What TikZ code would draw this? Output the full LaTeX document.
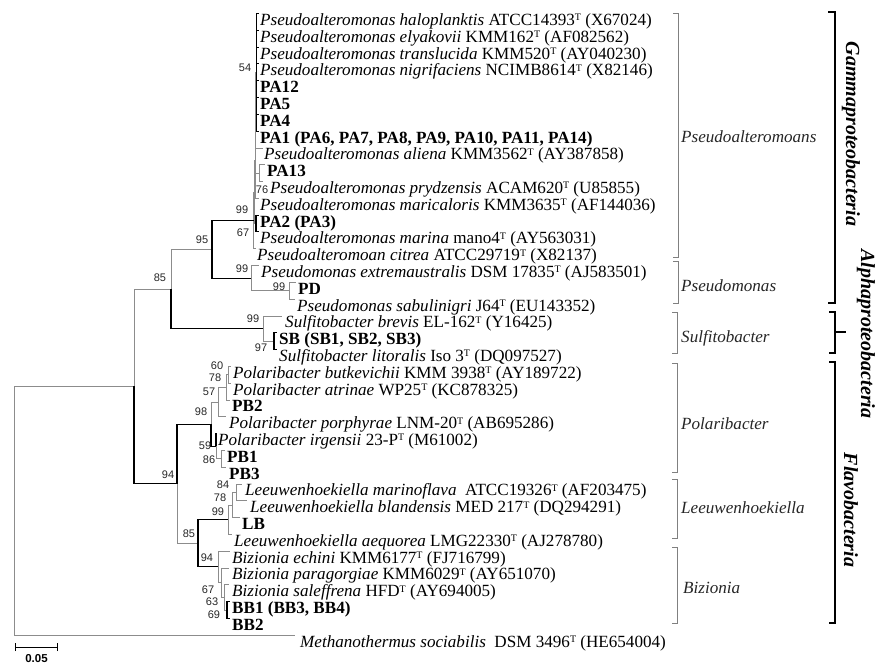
\documentclass[tikz,border=0pt]{standalone}
\usepackage{fontspec}
\setmainfont{Liberation Serif}
\newfontfamily\bootfont{Liberation Sans}
% type strain mark, kept small so rows do not collide
\newcommand\tsup{\raisebox{4.6pt}{\fontsize{10}{10}\selectfont T}}

\begin{document}
\begin{tikzpicture}[x=1pt,y=-1pt,
  leaf/.style={anchor=base west,inner sep=0pt,font=\fontsize{17.1}{18}\selectfont},
  boot/.style={inner sep=0pt,text=black!85,font=\bootfont\fontsize{11}{11}\selectfont},
  br/.style={line width=1.1pt,black},
  brg/.style={line width=0.8pt,black!45},
  clade/.style={line width=0.7pt,black!50},
  cladelab/.style={anchor=base west,inner sep=0pt,text=black!85,font=\fontsize{17.1}{18}\selectfont\itshape},
  group/.style={line width=2.6pt,black},
  grouplab/.style={rotate=-90,inner sep=0pt,font=\fontsize{20}{20}\selectfont\bfseries\itshape}]
  \useasboundingbox (0,0) rectangle (876,664);

  % Leaf labels
  \node[leaf] (l1)  at (260,25.5)  {\textit{Pseudoalteromonas haloplanktis} ATCC14393\tsup{} (X67024)};
  \node[leaf] (l2)  at (260,42.3)  {\textit{Pseudoalteromonas elyakovii} KMM162\tsup{} (AF082562)};
  \node[leaf] (l3)  at (260,59.1)  {\textit{Pseudoalteromonas translucida} KMM520\tsup{} (AY040230)};
  \node[leaf] (l4)  at (260,75.9)  {\textit{Pseudoalteromonas nigrifaciens} NCIMB8614\tsup{} (X82146)};
  \node[leaf] (l5)  at (260,92.7)  {\textbf{PA12}};
  \node[leaf] (l6)  at (260,109.5) {\textbf{PA5}};
  \node[leaf] (l7)  at (260,126.3) {\textbf{PA4}};
  \node[leaf] (l8)  at (260,143.1) {\textbf{PA1 (PA6, PA7, PA8, PA9, PA10, PA11, PA14)}};
  \node[leaf] (l9)  at (264,159.9) {\textit{Pseudoalteromonas aliena} KMM3562\tsup{} (AY387858)};
  \node[leaf] (l10) at (267,176.7) {\textbf{PA13}};
  \node[leaf] (l11) at (270,193.5) {\textit{Pseudoalteromonas prydzensis} ACAM620\tsup{} (U85855)};
  \node[leaf] (l12) at (260,210.3) {\textit{Pseudoalteromonas maricaloris} KMM3635\tsup{} (AF144036)};
  \node[leaf] (l13) at (260,227.1) {\textbf{PA2 (PA3)}};
  \node[leaf] (l14) at (260,243.9) {\textit{Pseudoalteromonas marina} mano4\tsup{} (AY563031)};
  \node[leaf] (l15) at (257,260.7) {\textit{Pseudoalteromoan citrea} ATCC29719\tsup{} (X82137)};
  \node[leaf] (l16) at (261,277.5) {\textit{Pseudomonas extremaustralis} DSM 17835\tsup{} (AJ583501)};
  \node[leaf] (l17) at (298,294.3) {\textbf{PD}};
  \node[leaf] (l18) at (297,311.1) {\textit{Pseudomonas sabulinigri} J64\tsup{} (EU143352)};
  \node[leaf] (l19) at (285,327.9) {\textit{Sulfitobacter brevis} EL-162\tsup{} (Y16425)};
  \node[leaf] (l20) at (279,344.7) {\textbf{SB (SB1, SB2, SB3)}};
  \node[leaf] (l21) at (279,361.5) {\textit{Sulfitobacter litoralis} Iso 3\tsup{} (DQ097527)};
  \node[leaf] (l22) at (233,378.3) {\textit{Polaribacter butkevichii} KMM 3938\tsup{} (AY189722)};
  \node[leaf] (l23) at (233,395.1) {\textit{Polaribacter atrinae} WP25\tsup{} (KC878325)};
  \node[leaf] (l24) at (232,411.9) {\textbf{PB2}};
  \node[leaf] (l25) at (229,428.7) {\textit{Polaribacter porphyrae} LNM-20\tsup{} (AB695286)};
  \node[leaf] (l26) at (218,445.5) {\textit{Polaribacter irgensii} 23-P\tsup{} (M61002)};
  \node[leaf] (l27) at (227,462.3) {\textbf{PB1}};
  \node[leaf] (l28) at (229,479.1) {\textbf{PB3}};
  \node[leaf] (l29) at (245,495.9) {\textit{Leeuwenhoekiella marinoflava}\ \ ATCC19326\tsup{} (AF203475)};
  \node[leaf] (l30) at (250,512.7) {\textit{Leeuwenhoekiella blandensis} MED 217\tsup{} (DQ294291)};
  \node[leaf] (l31) at (242,529.5) {\textbf{LB}};
  \node[leaf] (l32) at (234,546.3) {\textit{Leeuwenhoekiella aequorea} LMG22330\tsup{} (AJ278780)};
  \node[leaf] (l33) at (232,563.1) {\textit{Bizionia echini} KMM6177\tsup{} (FJ716799)};
  \node[leaf] (l34) at (232,579.9) {\textit{Bizionia paragorgiae} KMM6029\tsup{} (AY651070)};
  \node[leaf] (l35) at (232,596.7) {\textit{Bizionia saleffrena} HFD\tsup{} (AY694005)};
  \node[leaf] (l36) at (232,613.5) {\textbf{BB1 (BB3, BB4)}};
  \node[leaf] (l37) at (232,630.3) {\textbf{BB2}};
  \node[leaf] (l38) at (300,647.1) {\textit{Methanothermus sociabilis}\ \ DSM 3496\tsup{} (HE654004)};

  % Branch tips
  \coordinate (t1) at (258.5,13.5);  \coordinate (t2) at (258.5,30.3);
  \coordinate (t3) at (258.5,47.1);  \coordinate (t4) at (258.5,63.9);
  \coordinate (t5) at (258.5,80.7);  \coordinate (t6) at (258.5,97.5);
  \coordinate (t7) at (258.5,114.3); \coordinate (t8) at (258.5,131.1);
  \coordinate (t9) at (262.5,147.9); \coordinate (t10) at (265,164.7);
  \coordinate (t11) at (263,181.5);  \coordinate (t12) at (258.5,198.3);
  \coordinate (t13) at (258.5,215.1); \coordinate (t14) at (258.5,231.9);
  \coordinate (t15) at (256,248.7);  \coordinate (t16) at (259,265.5);
  \coordinate (t17) at (296,282.3);  \coordinate (t18) at (295,299.1);
  \coordinate (t19) at (282,315.9);  \coordinate (t20) at (277,332.7);
  \coordinate (t21) at (277,349.5);  \coordinate (t22) at (231,366.3);
  \coordinate (t23) at (231,383.1);  \coordinate (t24) at (230,399.9);
  \coordinate (t25) at (226,416.7);  \coordinate (t26) at (217,433.5);
  \coordinate (t27) at (225,450.3);  \coordinate (t28) at (226,467.1);
  \coordinate (t29) at (242,483.9);  \coordinate (t30) at (247,500.7);
  \coordinate (t31) at (240,517.5);  \coordinate (t32) at (232,534.3);
  \coordinate (t33) at (230,551.1);  \coordinate (t34) at (229,567.9);
  \coordinate (t35) at (229,584.7);  \coordinate (t36) at (230,601.5);
  \coordinate (t37) at (230,618.3);  \coordinate (t38) at (295,635.1);

  % Inner nodes
  \coordinate (root) at (14,510.7);
  \coordinate (n1)   at (134,386.2);
  \coordinate (nA)   at (171,288.9);
  \coordinate (nB)   at (212,249.2);
  \coordinate (nD)   at (253.5,220.4);
  \coordinate (nG)   at (254.5,192);
  \coordinate (nK)   at (255,160.5);
  \coordinate (nJ)   at (255.5,122.7);
  \coordinate (nP54) at (256.5,72.3);
  \coordinate (nN)   at (259,173.1);
  \coordinate (nH)   at (256,223.5);
  \coordinate (nE)   at (251,278.1);
  \coordinate (nPD)  at (289,290.7);
  \coordinate (nC)   at (263,328.5);
  \coordinate (nSB)  at (274,341.1);
  \coordinate (nF)   at (177,483.6);
  \coordinate (nPol) at (211,424.1);
  \coordinate (nP2)  at (218,402);
  \coordinate (nP3)  at (226,387.3);
  \coordinate (nP4)  at (228,374.7);
  \coordinate (nP5)  at (216,446.1);
  \coordinate (nP6)  at (221,458.7);
  \coordinate (nQ)   at (198,543.2);
  \coordinate (nLz)  at (228,519.6);
  \coordinate (nL3)  at (232,504.9);
  \coordinate (nL4)  at (236,492.3);
  \coordinate (nBz)  at (218,566.9);
  \coordinate (nB2)  at (221,582.6);
  \coordinate (nB3)  at (224,597.3);
  \coordinate (nB4)  at (227,609.9);

  % grey branches
  \draw[brg] (root) |- (n1);  \draw[brg] (root) |- (t38);
  \draw[brg] (n1) |- (nA);    \draw[brg] (nA) |- (nB);
  \draw[brg] (nD) |- (nG);    \draw[brg] (nD) |- (t15);
  \draw[brg] (nG) |- (nK);    \draw[brg] (nG) |- (nH);
  \draw[brg] (nK) |- (nJ);    \draw[brg] (nK) |- (t12);
  \draw[brg] (nJ) |- (nP54);  \draw[brg] (nJ) |- (t9);  \draw[brg] (nJ) |- (nN);
  \draw[brg] (nN) |- (t10);   \draw[brg] (nN) |- (t11);
  \draw[brg] (nE) |- (t16);   \draw[brg] (nE) |- (nPD);
  \draw[brg] (nPD) |- (t17);  \draw[brg] (nPD) |- (t18);
  \draw[brg] (nC) |- (t19);   \draw[brg] (nC) |- (nSB);
  \draw[brg] (nF) |- (nQ);
  \draw[brg] (nPol) |- (nP2);
  \draw[brg] (nP2) |- (nP3);  \draw[brg] (nP2) |- (t25);
  \draw[brg] (nP3) |- (nP4);  \draw[brg] (nP3) |- (t24);
  \draw[brg] (nP4) |- (t22);  \draw[brg] (nP4) |- (t23);
  \draw[brg] (nP5) |- (nP6);
  \draw[brg] (nP6) |- (t27);  \draw[brg] (nP6) |- (t28);
  \draw[brg] (nLz) |- (nL3);  \draw[brg] (nLz) |- (t32);
  \draw[brg] (nL3) |- (nL4);  \draw[brg] (nL3) |- (t31);
  \draw[brg] (nL4) |- (t29);  \draw[brg] (nL4) |- (t30);
  \draw[brg] (nBz) |- (t33);  \draw[brg] (nBz) |- (nB2);
  \draw[brg] (nB2) |- (t34);  \draw[brg] (nB2) |- (nB3);
  \draw[brg] (nB3) |- (t35);  \draw[brg] (nB3) |- (nB4);

  % black branches
  \draw[br] (n1) |- (nF);
  \draw[br] (nA) |- (nC);
  \draw[br] (nB) |- (nD);     \draw[br] (nB) |- (nE);
  \draw[br] (nP54) |- (t1);   \draw[br] (nP54) |- (t2);
  \draw[br] (nP54) |- (t3);   \draw[br] (nP54) |- (t4);
  \draw[br] (nP54) |- (t5);   \draw[br] (nP54) |- (t6);
  \draw[br] (nP54) |- (t7);   \draw[br] (nP54) |- (t8);
  \draw[br] (nH) |- (t13);    \draw[br] (nH) |- (t14);
  \draw[br] (nSB) |- (t20);   \draw[br] (nSB) |- (t21);
  \draw[br] (nF) |- (nPol);
  \draw[br] (nPol) |- (nP5);  \draw[br] (nP5) |- (t26);
  \draw[br] (nQ) |- (nLz);    \draw[br] (nQ) |- (nBz);
  \draw[br] (nB4) |- (t36);   \draw[br] (nB4) |- (t37);

  % bootstrap values
  \node[boot] (b85a) at (160,278) {85};
  \node[boot] (b95)  at (202,240) {95};
  \node[boot] (b99d) at (242,210) {99};
  \node[boot] (b67a) at (243,233) {67};
  \node[boot] (b54)  at (245,68)  {54};
  \node[boot] (b76)  at (262,190) {76};
  \node[boot] (b99e) at (242,269) {99};
  \node[boot] (b99p) at (279,286.5) {99};
  \node[boot] (b99c) at (253,319) {99};
  \node[boot] (b97)  at (261,348) {97};
  \node[boot] (b94a) at (168,475) {94};
  \node[boot] (b60)  at (217,366) {60};
  \node[boot] (b78a) at (215,378) {78};
  \node[boot] (b57)  at (209,392) {57};
  \node[boot] (b98)  at (201,412) {98};
  \node[boot] (b59)  at (205,446) {59};
  \node[boot] (b86)  at (209,460) {86};
  \node[boot] (b84)  at (223,485) {84};
  \node[boot] (b78b) at (220,498) {78};
  \node[boot] (b99l) at (218,512) {99};
  \node[boot] (b85b) at (189,534) {85};
  \node[boot] (b94b) at (207,558) {94};
  \node[boot] (b67b) at (208,590) {67};
  \node[boot] (b63)  at (212,602) {63};
  \node[boot] (b69)  at (214,615) {69};

  % genus brackets
  \draw[clade] (673,13) -- (678,13) -- (678,257) -- (673,257);
  \draw[clade] (673,261) -- (678,261) -- (678,303) -- (673,303);
  \draw[clade] (672,312) -- (677,312) -- (677,353) -- (672,353);
  \draw[clade] (672,363) -- (677,363) -- (677,472) -- (672,472);
  \draw[clade] (672,479) -- (677,479) -- (677,538) -- (672,538);
  \draw[clade] (672,547) -- (677,547) -- (677,623) -- (672,623);
  \node[cladelab] (gPsa) at (681,142) {Pseudoalteromoans};
  \node[cladelab] (gPsm) at (681,291) {Pseudomonas};
  \node[cladelab] (gSul) at (681,342) {Sulfitobacter};
  \node[cladelab] (gPol) at (681,429) {Polaribacter};
  \node[cladelab] (gLee) at (681,513) {Leeuwenhoekiella};
  \node[cladelab] (gBiz) at (683,593) {Bizionia};

  % class brackets
  \draw[group] (828,12) -- (835,12) -- (835,303) -- (828,303);
  \draw[group] (829,312) -- (835,312) -- (835,353) -- (829,353);
  \draw[group] (835,332) -- (846,332);
  \draw[group] (829,362) -- (835,362) -- (835,623) -- (829,623);
  \node[grouplab] (cGam) at (851,134) {Gammaproteobacteria};
  \node[grouplab] (cAlp) at (866,334) {Alphaproteobacteria};
  \node[grouplab] (cFla) at (851,510) {Flavobacteria};

  % scale bar
  \coordinate (s0) at (15,647);
  \coordinate (s1) at (57,647);
  \draw[line width=0.9pt] (s0) -- (s1);
  \draw[line width=0.9pt] ([yshift=-4pt]s0) -- ([yshift=4pt]s0);
  \draw[line width=0.9pt] ([yshift=-4pt]s1) -- ([yshift=4pt]s1);
  \node[inner sep=0pt,font=\bootfont\bfseries\fontsize{11.5}{12}\selectfont] (sbl) at (36.5,658.5) {0.05};
\end{tikzpicture}
\end{document}
